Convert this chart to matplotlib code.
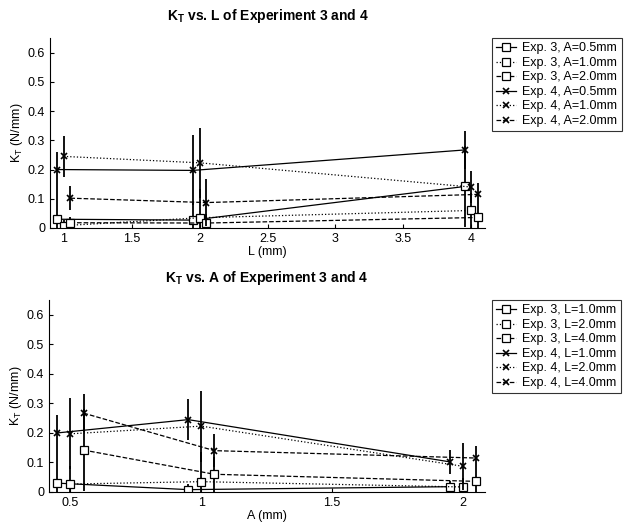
import numpy as np
import matplotlib
matplotlib.use("Agg")
import matplotlib.pyplot as plt

plt.rcParams['font.family'] = ['Liberation Sans', 'DejaVu Sans']

L_vals = [1.0, 2.0, 4.0]
A_vals = [0.5, 1.0, 2.0]

# rows: A = 0.5, 1.0, 2.0 ; cols: L = 1, 2, 4
k_exp3 = np.array([[0.030, 0.027, 0.142],
                   [0.008, 0.035, 0.060],
                   [0.018, 0.017, 0.036]])
err_exp3 = np.array([[0.110, 0.060, 0.140],
                     [0.020, 0.100, 0.060],
                     [0.020, 0.030, 0.040]])
k_exp4 = np.array([[0.200, 0.197, 0.267],
                   [0.245, 0.223, 0.140],
                   [0.102, 0.087, 0.115]])
err_exp4 = np.array([[0.060, 0.120, 0.065],
                     [0.070, 0.120, 0.055],
                     [0.040, 0.080, 0.040]])

styles = ['-', ':', '--']
offsets = [-0.05, 0.0, 0.05]

fig = plt.figure(figsize=(6.41, 5.29), dpi=100)
W, H = 641, 529
ax1 = fig.add_axes([50 / W, 1 - 228 / H, 435 / W, 190 / H])
ax2 = fig.add_axes([49 / W, 1 - 492 / H, 436 / W, 192 / H])


def draw(ax, xs, k3, e3, k4, e4, names3, names4):
    for k, e, names, mk in [(k3, e3, names3, 's'), (k4, e4, names4, 'x')]:
        for i in range(3):
            x = np.array(xs) + offsets[i]
            ax.errorbar(x, k[i], yerr=e[i], fmt='none', ecolor='black',
                        elinewidth=1.3, capsize=0)
            if mk == 's':
                ax.plot(x, k[i], color='black', ls=styles[i], lw=0.9,
                        marker='s', ms=6, mfc='white', mec='black', mew=0.9,
                        label=names[i])
            else:
                ax.plot(x, k[i], color='black', ls=styles[i], lw=0.9,
                        marker='x', ms=5, mew=1.2, label=names[i])
    ax.set_ylim(0, 0.65)
    ax.set_yticks([0, 0.1, 0.2, 0.3, 0.4, 0.5, 0.6])
    ax.set_yticklabels(['0', '0.1', '0.2', '0.3', '0.4', '0.5', '0.6'])
    ax.tick_params(direction='in', labelsize=9, length=3)
    for s in ['top', 'right']:
        ax.spines[s].set_visible(False)
    ax.set_ylabel(r'K$_\mathregular{T}$ (N/mm)', fontsize=9, labelpad=2)


# top: K_T vs L, one line per amplitude
draw(ax1, L_vals, k_exp3, err_exp3, k_exp4, err_exp4,
     ['Exp. 3, A=0.5mm', 'Exp. 3, A=1.0mm', 'Exp. 3, A=2.0mm'],
     ['Exp. 4, A=0.5mm', 'Exp. 4, A=1.0mm', 'Exp. 4, A=2.0mm'])
ax1.set_xlim(0.9, 4.1)
ax1.set_xticks([1, 1.5, 2, 2.5, 3, 3.5, 4])
ax1.set_xticklabels(['1', '1.5', '2', '2.5', '3', '3.5', '4'])
ax1.set_xlabel('L (mm)', fontsize=9, labelpad=1)
ax1.set_title(r'K$_\mathregular{T}$ vs. L of Experiment 3 and 4',
              fontsize=10, fontweight='bold', pad=13)

# bottom: K_T vs A, one line per length
draw(ax2, A_vals, k_exp3.T, err_exp3.T, k_exp4.T, err_exp4.T,
     ['Exp. 3, L=1.0mm', 'Exp. 3, L=2.0mm', 'Exp. 3, L=4.0mm'],
     ['Exp. 4, L=1.0mm', 'Exp. 4, L=2.0mm', 'Exp. 4, L=4.0mm'])
ax2.set_xlim(0.418, 2.084)
ax2.set_xticks([0.5, 1, 1.5, 2])
ax2.set_xticklabels(['0.5', '1', '1.5', '2'])
ax2.set_xlabel('A (mm)', fontsize=9, labelpad=1)
ax2.set_title(r'K$_\mathregular{T}$ vs. A of Experiment 3 and 4',
              fontsize=10, fontweight='bold', pad=13)

for ax in (ax1, ax2):
    leg = ax.legend(loc='upper left', bbox_to_anchor=(1.015, 1.0), fontsize=9,
                    frameon=True, fancybox=False, edgecolor='black',
                    handlelength=1.6, handletextpad=0.5, labelspacing=0.2,
                    borderpad=0.35, borderaxespad=0)
    leg.get_frame().set_linewidth(0.8)

fig.savefig('out.png', dpi=100)
